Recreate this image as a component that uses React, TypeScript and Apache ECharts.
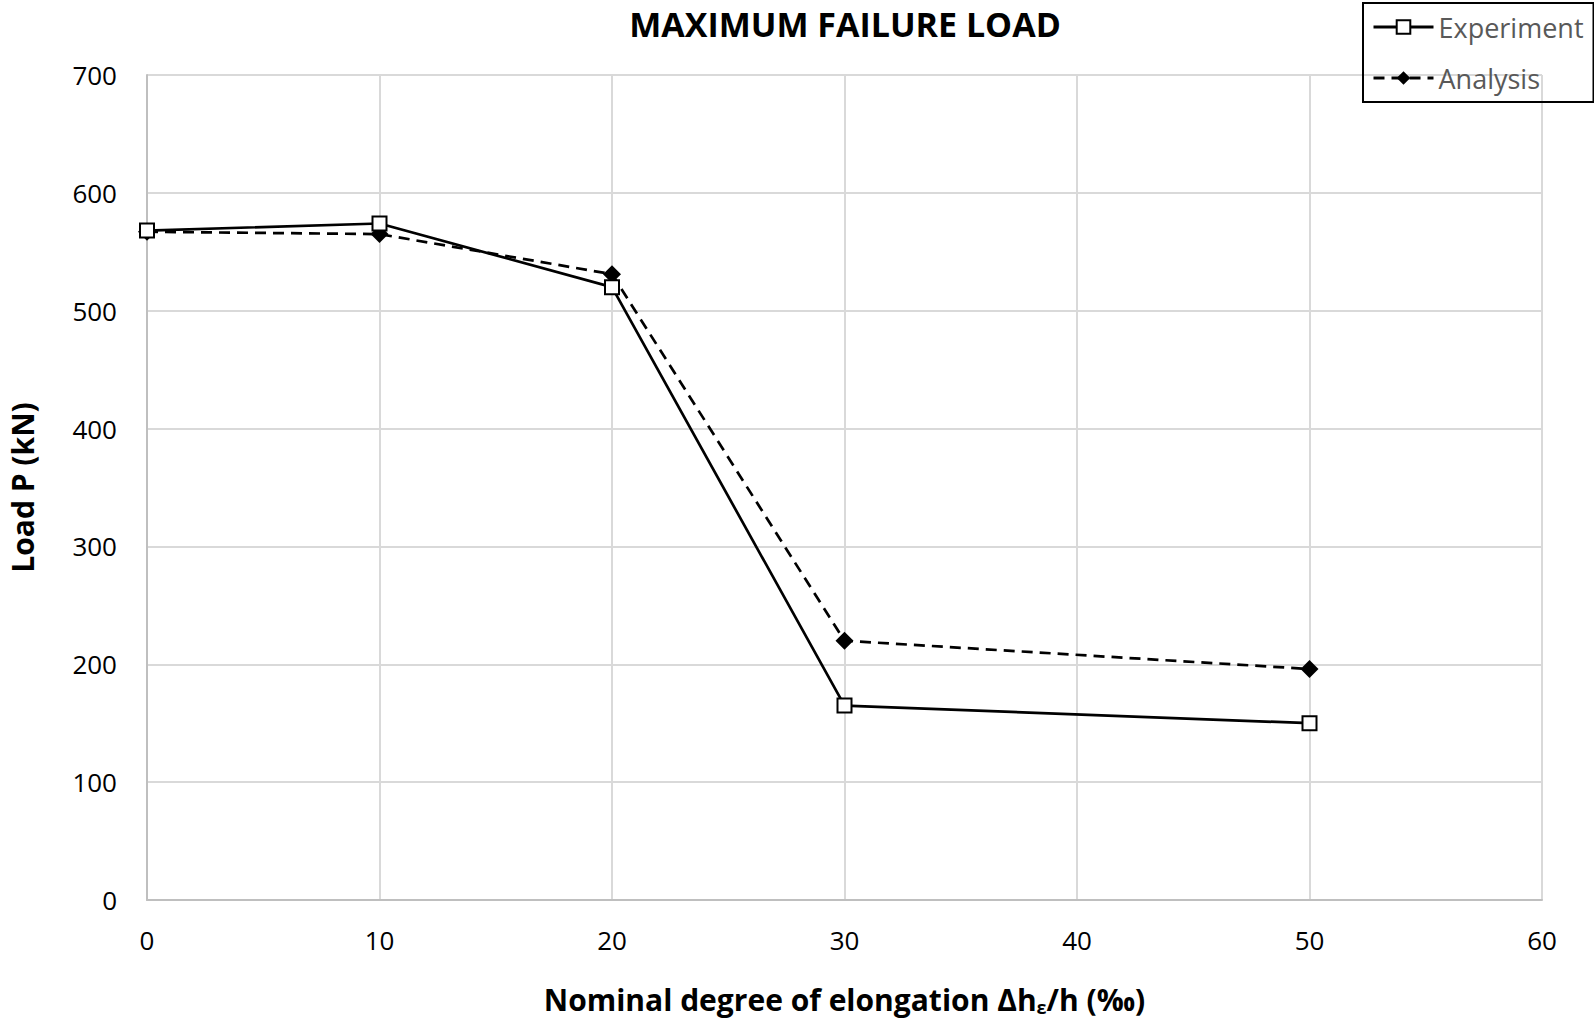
import React, { useEffect, useRef } from "react";
import * as echarts from "echarts";

const xValues = [0, 10, 20, 30, 50];
const experiment = [568, 574, 520, 165, 150];
const analysis = [567, 565, 531, 220, 196];
const xTicks = { min: 0, max: 60, interval: 10 };
const yTicks = { min: 0, max: 700, interval: 100 };

const FONT = "'Open Sans', 'Noto Sans', sans-serif";

export default function App() {
  const ref = useRef<HTMLDivElement>(null);
  useEffect(() => {
    if (!ref.current) return;
    const chart = echarts.init(ref.current, undefined, { renderer: "svg" });
    chart.setOption({
      animation: false,
      backgroundColor: "#fff",
      textStyle: { fontFamily: FONT },
      title: {
        text: "MAXIMUM FAILURE LOAD",
        left: 840,
        top: 2,
        textAlign: "center",
        textStyle: { fontFamily: FONT, fontWeight: "bold", fontSize: 34, color: "#000" },
      },
      legend: {
        orient: "vertical",
        left: 1363,
        top: 3,
        padding: [8, 10, 8, 9],
        borderColor: "#000",
        borderWidth: 2,
        itemWidth: 60,
        itemHeight: 17,
        itemGap: 19,
        data: ["Experiment", "Analysis"],
        lineStyle: { width: 3 },
        textStyle: { fontFamily: FONT, fontSize: 27, color: "#595959", lineHeight: 32 },
      },
      grid: { left: 147, right: 52, top: 75, bottom: 128, containLabel: false, outerBoundsMode: "none" },
      xAxis: {
        type: "value",
        min: xTicks.min,
        max: xTicks.max,
        interval: xTicks.interval,
        name: "Nominal degree of elongation Δh{sub|ε}/h (‰)",
        nameLocation: "middle",
        nameGap: 82,
        nameTextStyle: {
          fontFamily: FONT,
          fontWeight: "bold",
          fontSize: 30,
          color: "#000",
          rich: {
            sub: { fontFamily: FONT, fontWeight: "bold", fontSize: 18, color: "#000", verticalAlign: "bottom", padding: [16, 0, 0, 0] },
          },
        },
        axisLine: { show: true, lineStyle: { color: "#bfbfbf", width: 2 } },
        axisTick: { show: false },
        axisLabel: { fontFamily: FONT, fontSize: 26, color: "#000", margin: 27 },
        splitLine: { show: true, lineStyle: { color: "#d9d9d9", width: 2 } },
      },
      yAxis: {
        type: "value",
        min: yTicks.min,
        max: yTicks.max,
        interval: yTicks.interval,
        name: "Load P (kN)",
        nameLocation: "middle",
        nameGap: 110,
        nameRotate: 90,
        nameTextStyle: { fontFamily: FONT, fontWeight: "bold", fontSize: 30, color: "#000" },
        axisLine: { show: true, lineStyle: { color: "#bfbfbf", width: 2 } },
        axisTick: { show: false },
        axisLabel: { fontFamily: FONT, fontSize: 26, color: "#000", margin: 30 },
        splitLine: { show: true, lineStyle: { color: "#d9d9d9", width: 2 } },
      },
      series: [
        {
          name: "Experiment",
          type: "line",
          data: xValues.map((x, i) => [x, experiment[i]]),
          symbol: "rect",
          symbolSize: 14,
          itemStyle: { color: "#fff", borderColor: "#000", borderWidth: 2 },
          lineStyle: { color: "#000", width: 2.7, type: "solid" },
          z: 3,
        },
        {
          name: "Analysis",
          type: "line",
          data: xValues.map((x, i) => [x, analysis[i]]),
          symbol: "diamond",
          symbolSize: 18,
          itemStyle: { color: "#000", borderColor: "#000", borderWidth: 0 },
          lineStyle: { color: "#000", width: 2.7, type: [11, 7] },
          z: 2,
        },
      ],
    });
    return () => chart.dispose();
  }, []);
  return <div ref={ref} style={{ width: 1594, height: 1028, position: "absolute", left: 0, top: 0 }} />;
}
